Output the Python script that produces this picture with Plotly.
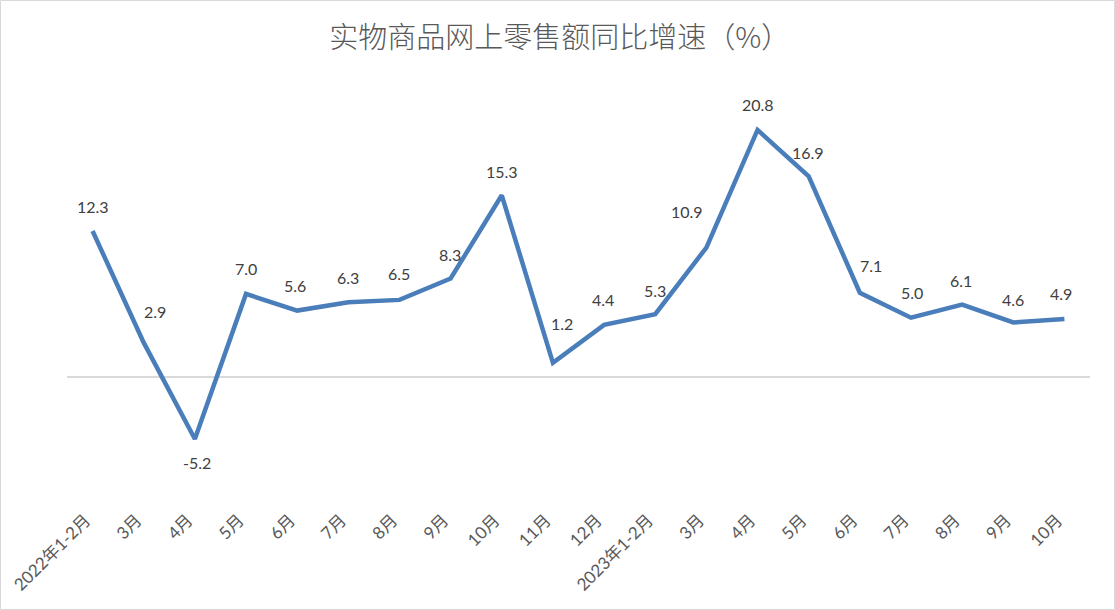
import plotly.graph_objects as go

categories = ["2022年1-2月", "3月", "4月", "5月", "6月", "7月", "8月", "9月", "10月", "11月",
              "12月", "2023年1-2月", "3月", "4月", "5月", "6月", "7月", "8月", "9月", "10月"]
values = [12.3, 2.9, -5.2, 7.0, 5.6, 6.3, 6.5, 8.3, 15.3, 1.2,
          4.4, 5.3, 10.9, 20.8, 16.9, 7.1, 5.0, 6.1, 4.6, 4.9]
# label offsets in pixels (style only)
label_dx = [0, 11, 2, 0, -2, 0, 0, -1, 0, 9, -1, 0, -19, 0, -1, 11, 1, -1, 0, -3]
label_dy = [24, 31, -24, 25, 25, 25, 26, 24, 24, 39, 25, 24, 36, 25, 24, 27, 25, 24, 23, 25]

W, H = 1115, 610
ML, MR, MT, MB = 67, 25, 80, 114
pw, ph = W - ML - MR, H - MT - MB

x_idx = list(range(len(categories)))
label_font = dict(family="Lato, 'Noto Sans CJK SC', sans-serif", size=16, color="#404040")

fig = go.Figure()
fig.add_trace(go.Scatter(
    x=x_idx, y=values,
    mode="lines",
    line=dict(color="#4A7EBB", width=4.5),
    hoverinfo="skip",
    showlegend=False,
))

annotations = [
    dict(x=xi, y=v, xref="x", yref="y", text=f"{v:.1f}", showarrow=False,
         xshift=dx, yshift=dy, xanchor="center", yanchor="middle", font=label_font)
    for xi, v, dx, dy in zip(x_idx, values, label_dx, label_dy)
]

fig.update_layout(
    width=W, height=H,
    margin=dict(l=ML, r=MR, t=MT, b=MB, autoexpand=False),
    paper_bgcolor="white", plot_bgcolor="white",
    title=dict(text="实物商品网上零售额同比增速（%）",
               font=dict(family="'Noto Sans CJK SC', sans-serif", size=29, color="#595959", weight=300),
               x=0.502, xanchor="center", xref="container",
               y=1 - 38 / H, yanchor="middle", yref="container"),
    xaxis=dict(tickmode="array", tickvals=x_idx, ticktext=categories,
               range=[-0.5, len(categories) - 0.5], automargin=False,
               tickangle=-45, showgrid=False, showline=False, zeroline=False, ticks="",
               ticklabelstandoff=10, ticklabelshift=-7,
               tickfont=dict(family="Lato, 'Noto Sans CJK SC', sans-serif", size=17, color="#595959")),
    yaxis=dict(range=[-10, 25], showticklabels=False, showgrid=False, showline=False,
               automargin=False,
               zeroline=True, zerolinecolor="#D9D9D9", zerolinewidth=1.5, ticks=""),
    annotations=annotations,
    shapes=[dict(type="rect", xref="paper", yref="paper",
                 x0=-(ML - 0.5) / pw, x1=1 + (MR - 0.5) / pw,
                 y0=-(MB - 0.5) / ph, y1=1 + (MT - 0.5) / ph,
                 line=dict(color="#D9D9D9", width=1), layer="below")],
)

fig.write_html("out.html", config={"displayModeBar": False},
               post_script="document.body.style.margin='0';document.body.style.overflow='hidden';")
